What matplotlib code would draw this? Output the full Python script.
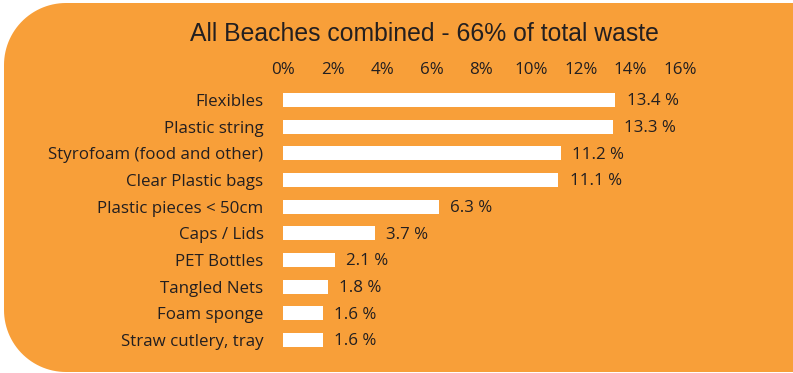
import matplotlib
matplotlib.use("Agg")
import matplotlib.pyplot as plt
import numpy as np
from matplotlib.path import Path
from matplotlib.patches import PathPatch

categories = ["Flexibles", "Plastic string", "Styrofoam (food and other)",
              "Clear Plastic bags", "Plastic pieces < 50cm", "Caps / Lids",
              "PET Bottles", "Tangled Nets", "Foam sponge", "Straw cutlery, tray"]
values = [13.4, 13.3, 11.2, 11.1, 6.3, 3.7, 2.1, 1.8, 1.6, 1.6]
xticks = [0, 2, 4, 6, 8, 10, 12, 14, 16]

ORANGE = "#F89F39"
TEXT = "#231F20"
W, H = 793, 373

fig = plt.figure(figsize=(W / 100, H / 100), dpi=100, facecolor="white")

# orange panel, rounded on the left side
def rounded_panel(x0, y0, x1, y1, r):
    t = np.linspace(0, np.pi / 2, 30)
    pts = [(x1, y0), (x1, y1)]
    # top-left corner
    pts += list(zip(x0 + r - r * np.sin(t), y1 - r + r * np.cos(t)))
    # bottom-left corner
    pts += list(zip(x0 + r - r * np.cos(t), y0 + r - r * np.sin(t)))
    pts.append((x1, y0))
    pts = np.array(pts)
    pts[:, 0] /= W
    pts[:, 1] /= H
    return Path(pts, closed=True)

panel = PathPatch(rounded_panel(4, 1, 800, 370, 62), facecolor=ORANGE,
                  edgecolor="none", transform=fig.transFigure, zorder=0)
fig.add_artist(panel)

plt.rcParams['font.family'] = ['Open Sans', 'DejaVu Sans']

ax = fig.add_axes([283 / W, 1 - 353.3 / H, 397 / W, 266.7 / H])
ax.set_facecolor("none")
y = np.arange(len(categories))
ax.barh(y, values, height=0.53, color="white", zorder=2)
ax.set_xlim(0, 16)
ax.set_ylim(len(categories) - 0.5, -0.5)

for yi, v in zip(y, values):
    ax.annotate(f"{v} %", (v, yi), xytext=(8, -1), textcoords="offset points",
                va="center", ha="left", fontsize=12.2, color=TEXT)

ax.set_yticks(y)
ax.set_yticklabels(categories, fontsize=12.2, color=TEXT)
ax.set_xticks(xticks)
ax.set_xticklabels([f"{t}%" for t in xticks], fontsize=12.2, color=TEXT)
ax.xaxis.tick_top()
ax.tick_params(axis="x", length=0, pad=6)
ax.tick_params(axis="y", length=0, pad=14)
for s in ax.spines.values():
    s.set_visible(False)

fig.text(424 / W, 1 - 34 / H, "All Beaches combined - 66% of total waste",
         ha="center", va="center", fontsize=17.8, color=TEXT,
         family=["Liberation Sans", "DejaVu Sans"])

plt.savefig("out.png", dpi=100, facecolor="white")
